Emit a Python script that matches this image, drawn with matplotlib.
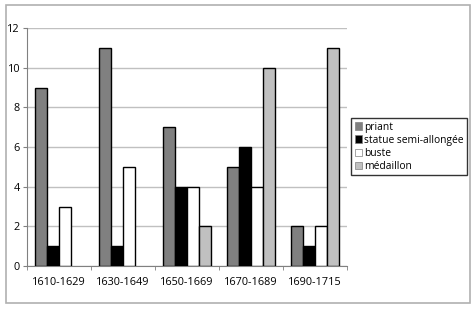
import matplotlib
matplotlib.use("Agg")
import matplotlib.pyplot as plt
import numpy as np
from matplotlib.patches import Rectangle

categories = ["1610-1629", "1630-1649", "1650-1669", "1670-1689", "1690-1715"]
series_names = ["priant", "statue semi-allongée", "buste", "médaillon"]
priant = [9, 11, 7, 5, 2]
statue = [1, 1, 4, 6, 1]
buste = [3, 5, 4, 4, 2]
medaillon = [0, 0, 2, 10, 11]
colors = ["#808080", "#000000", "#ffffff", "#c0c0c0"]
yticks = [0, 2, 4, 6, 8, 10, 12]

plt.rcParams['font.family'] = ['Open Sans', 'DejaVu Sans']

fig = plt.figure(figsize=(4.74, 3.09), dpi=100)
fig.patches.append(Rectangle((6/474, 1-303/309), 464/474, 298/309, transform=fig.transFigure,
                             fill=False, edgecolor="#b0b0b0", linewidth=1.2, zorder=0))
ax = fig.add_axes([27/474, 1-266/309, 320/474, 238/309])

x = np.arange(len(categories))
w = 0.1875
data = [priant, statue, buste, medaillon]
for i, (vals, c, name) in enumerate(zip(data, colors, series_names)):
    bars = ax.bar(x + (i - 1.5) * w, vals, width=w, color=c, edgecolor="black", linewidth=1.0,
                  label=name, zorder=3)
    for b, v in zip(bars, vals):
        if v == 0:
            b.set_linewidth(0)

ax.set_xlim(-0.5, len(categories) - 0.5)
ax.set_ylim(0, 12)
ax.set_yticks(yticks)
ax.set_yticklabels([str(t) for t in yticks], fontsize=7.8)
ax.set_xticks(x)
ax.set_xticklabels(categories, fontsize=7.8)
ax.tick_params(axis='x', length=0, pad=8)
ax.set_xticks(np.arange(len(categories) + 1) - 0.5, minor=True)
ax.tick_params(axis='x', which='minor', length=3, color="#808080")
ax.tick_params(axis='y', length=3, color="#808080", pad=2)
ax.yaxis.grid(True, color="#c0c0c0", linewidth=1.0, zorder=0)
ax.set_axisbelow(True)
for s in ["top", "right"]:
    ax.spines[s].set_visible(False)
ax.spines["left"].set_color("#808080")
ax.spines["bottom"].set_color("#808080")

leg = fig.legend(loc="upper left", bbox_to_anchor=(351/474, 1-118/309), fontsize=7.4,
                 frameon=True, fancybox=False, edgecolor="black", handlelength=0.7,
                 handleheight=0.7, handletextpad=0.25, borderpad=0.35, labelspacing=0.2,
                 borderaxespad=0)
leg.get_frame().set_linewidth(1.0)
for h in leg.legend_handles:
    h.set_linewidth(0.5)
    h.set_edgecolor("#808080")

fig.savefig("out.png", dpi=100)
